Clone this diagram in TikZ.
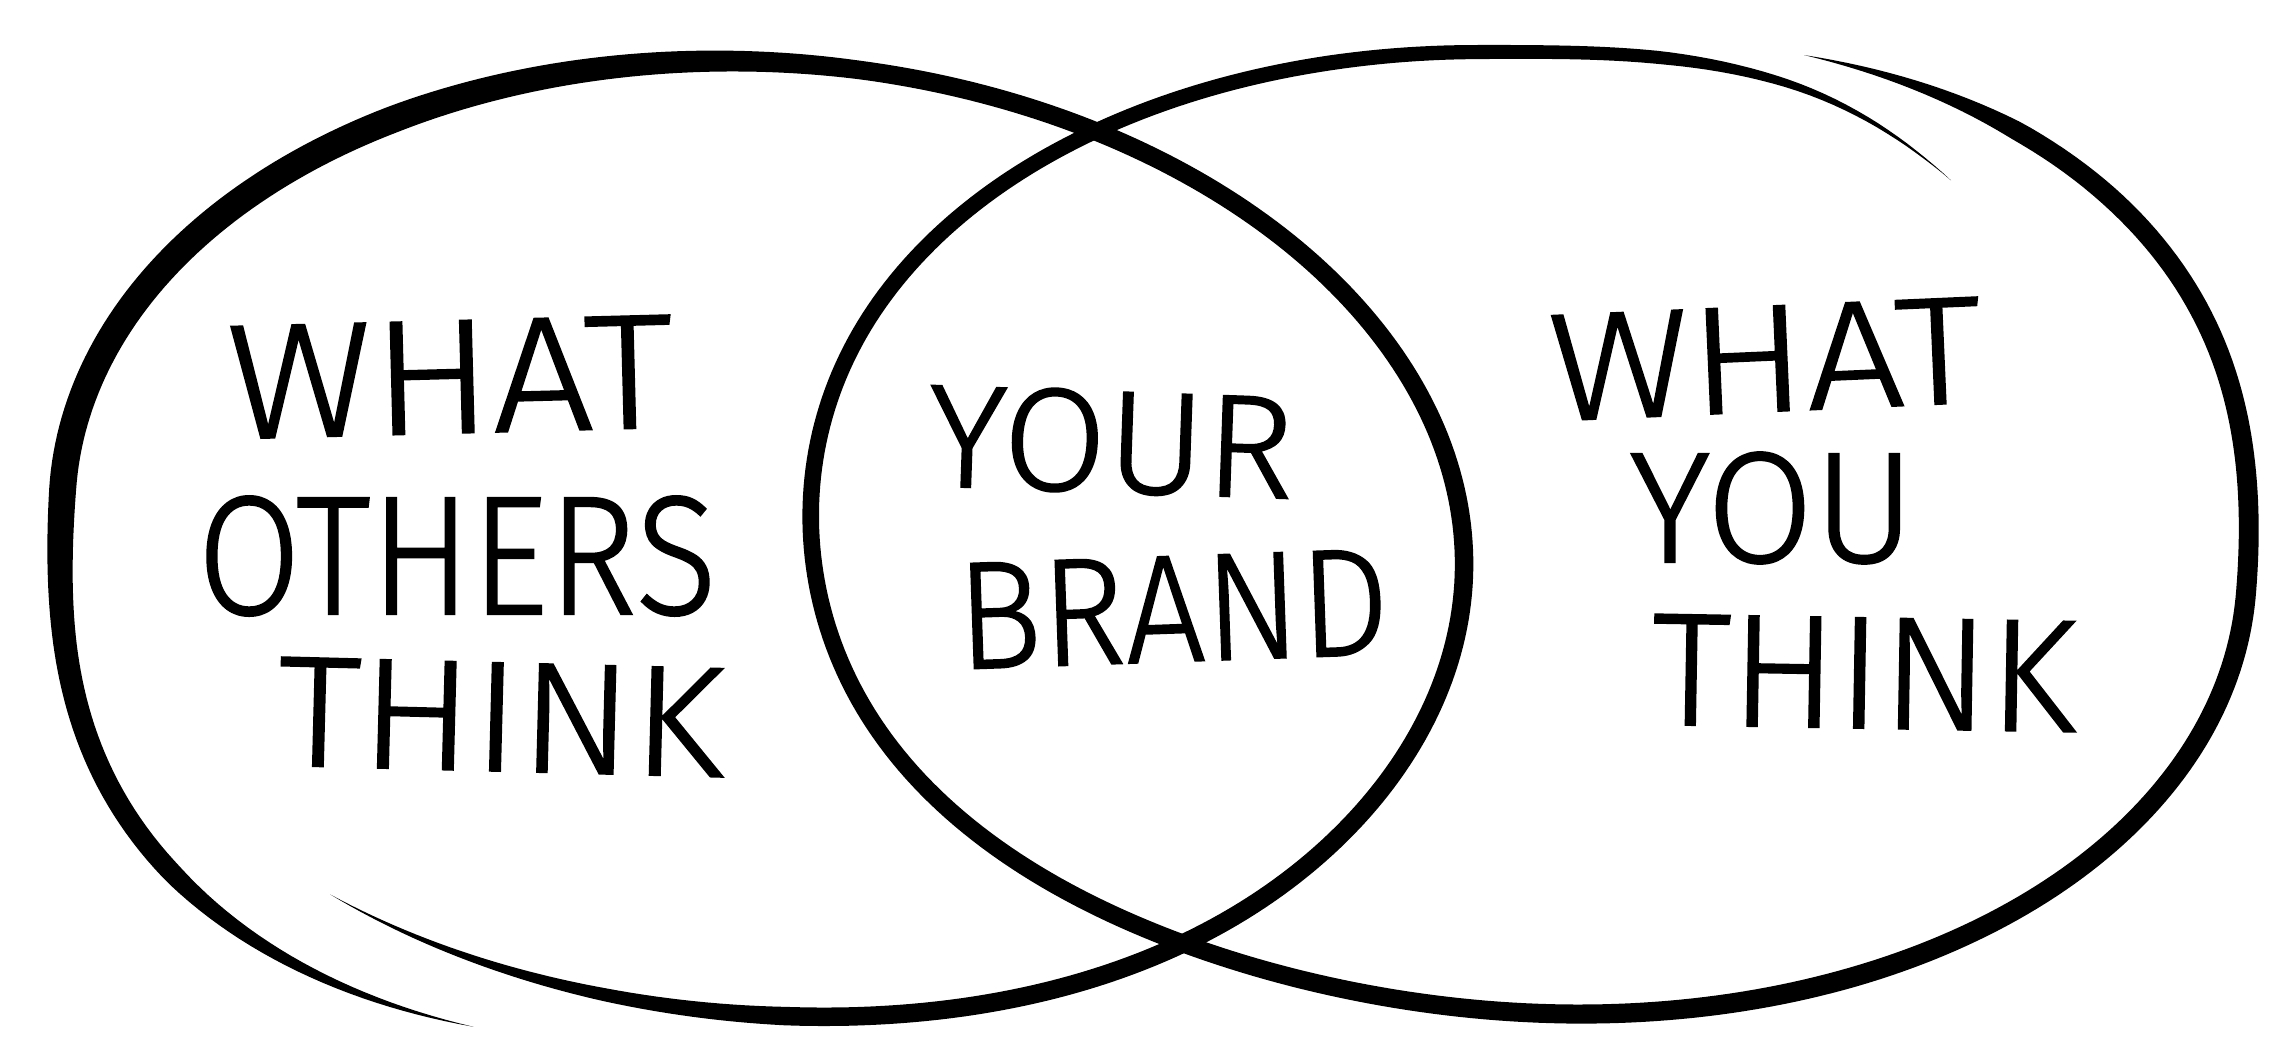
\documentclass[tikz,border=0pt]{standalone}
\usepackage{fontspec}
\usepackage{graphicx}
\newfontfamily\hand{Fira Sans Light}[FakeBold=1.2]
\tikzset{declare function={
  cp(\p)=max(0,cos(\p));
  cq(\p)=cp(\p)*cp(\p);
  cr(\p)=cq(\p)*cq(\p);
  ce(\p)=cr(\p)*cr(\p);
  % left ellipse: centre (763,537), a=702, b=474.6, tilt 4 deg
  LS(\p)=1+0.15*sin(max(0,-180-\p)*1.5517)*sin(max(0,-180-\p)*1.5517)+0.018*ce(\p-58);
  LX(\p)=763+LS(\p)*(700.29*cos(\p)-33.107*sin(\p));
  LY(\p)=537+LS(\p)*(48.969*cos(\p)+473.44*sin(\p));
  LL(\p)=sqrt(0.4571*cos(\p)*cos(\p)+sin(\p)*sin(\p));
  LNX(\p)=(0.67445*cos(\p)-0.069756*sin(\p))/LL(\p);
  LNY(\p)=(0.047163*cos(\p)+0.99756*sin(\p))/LL(\p);
  WL(\q)=(\q<25) ? (13*\q/25) : ((\q<40) ? (13+5.5*(\q-25)/15) : ((\q<210) ? 18.5 : ((\q<250) ? (18.5+8.5*(\q-210)/40) : ((\q<305) ? 27 : ((\q<350) ? (27-7*(\q-305)/45) : (20*(376.7-\q)/26.7))))));
  % right ellipse: centre (1531,533), a=717.5, b=478.7, tilt 5 deg
  RS(\p)=1+0.117*sin(max(0,0-\p)*1.6071)*sin(max(0,0-\p)*1.6071)+0.032*ce(\p-140)+(\p>200)*(0.028*sin(min(180,max(0,\p-262)*3.9))*sin(min(180,max(0,\p-262)*3.9))-0.00009576*max(0,\p-286)*max(0,\p-286));
  RX(\p)=1531+RS(\p)*(714.77*cos(\p)-41.722*sin(\p));
  RY(\p)=533+RS(\p)*(62.534*cos(\p)+476.88*sin(\p));
  RL(\p)=sqrt(0.44513*cos(\p)*cos(\p)+sin(\p)*sin(\p));
  RNX(\p)=(0.66464*cos(\p)-0.087156*sin(\p))/RL(\p);
  RNY(\p)=(0.058149*cos(\p)+0.996195*sin(\p))/RL(\p);
  WR(\q)=(\q<17) ? (19*\q/17) : ((\q<27) ? (19+(\q-17)/10) : ((\q<133) ? 20 : ((\q<183) ? (20-2*(\q-133)/50) : ((\q<323) ? (18-3*(\q-183)/140) : ((\q<350) ? (15-2*(\q-323)/27) : (13*(376.6-\q)/26.6))))));
}}
\begin{document}
\begin{tikzpicture}[x=0.01cm, y=-0.01cm,
  txt/.style={inner sep=0pt, outer sep=0pt, text=black},
  brush/.style={fill=black, draw=none}]
\useasboundingbox (0,0) rectangle (2292,1052);
\fill[white] (0,0) rectangle (2292,1052);

% ---------- left ellipse: one hand-drawn spiral stroke of varying width ----------
\path[brush]
  plot[variable=\q, domain=0:376.7, samples=361]
    ({LX(125.4-\q)+WL(\q)/2*LNX(125.4-\q)}, {LY(125.4-\q)+WL(\q)/2*LNY(125.4-\q)})
  -- plot[variable=\q, domain=0:376.7, samples=361]
    ({LX(\q-251.3)-WL(376.7-\q)/2*LNX(\q-251.3)}, {LY(\q-251.3)-WL(376.7-\q)/2*LNY(\q-251.3)})
  -- cycle;

% ---------- right ellipse: one hand-drawn spiral stroke of varying width ----------
\path[brush]
  plot[variable=\q, domain=0:376.6, samples=361]
    ({RX(\q-72.9)+WR(\q)/2*RNX(\q-72.9)}, {RY(\q-72.9)+WR(\q)/2*RNY(\q-72.9)})
  -- plot[variable=\q, domain=0:376.6, samples=361]
    ({RX(303.7-\q)-WR(376.6-\q)/2*RNX(303.7-\q)}, {RY(303.7-\q)-WR(376.6-\q)/2*RNY(303.7-\q)})
  -- cycle;

% ---------- texts ----------
\node[txt, rotate=1.5] (lwhat) at (450,377) {\resizebox{4.45cm}{1.12cm}{\hand WHAT}};
\node[txt] (lothers) at (457,556) {\resizebox{5.19cm}{1.18cm}{\hand OTHERS}};
\node[txt, rotate=-1.5] (lthink) at (501,717) {\resizebox{4.46cm}{1.08cm}{\hand THINK}};
\node[txt, rotate=-2] (myour) at (1111,442) {\resizebox{3.66cm}{1.02cm}{\hand YOUR}};
\node[txt, rotate=2] (mbrand) at (1173,609) {\resizebox{4.32cm}{1.05cm}{\hand BRAND}};
\node[txt, rotate=2.5] (rwhat) at (1765,359) {\resizebox{4.32cm}{1.05cm}{\hand WHAT}};
\node[txt] (ryou) at (1772,508) {\resizebox{2.85cm}{1.10cm}{\hand YOU}};
\node[txt, rotate=-1] (rthink) at (1864,673) {\resizebox{4.24cm}{1.10cm}{\hand THINK}};
\end{tikzpicture}
\end{document}
